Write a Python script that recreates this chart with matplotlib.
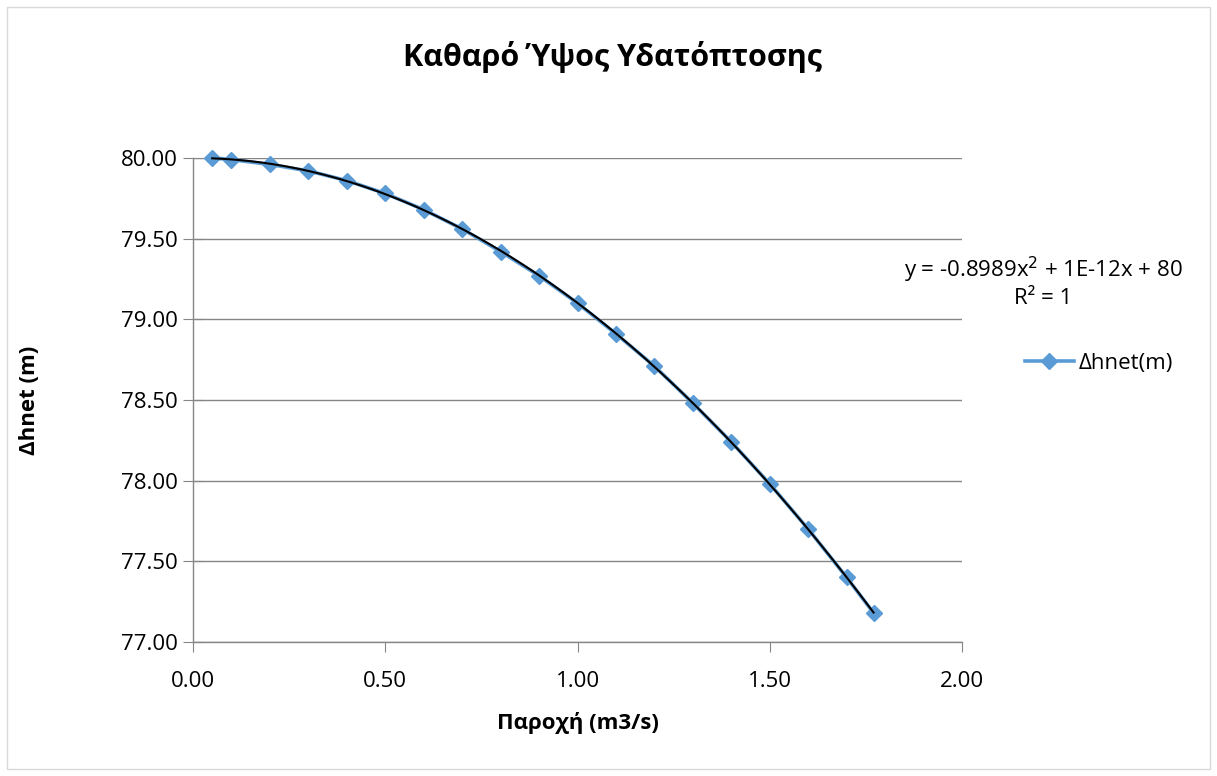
import numpy as np
import matplotlib
matplotlib.use("Agg")
import matplotlib.pyplot as plt
from matplotlib.lines import Line2D
from matplotlib.patches import Rectangle

plt.rcParams['font.family'] = ['Open Sans', 'DejaVu Sans']

# Data
flow = [0.05, 0.10, 0.20, 0.30, 0.40, 0.50, 0.60, 0.70, 0.80, 0.90,
        1.00, 1.10, 1.20, 1.30, 1.40, 1.50, 1.60, 1.70, 1.77]
dhnet = [80.00, 79.99, 79.96, 79.92, 79.86, 79.78, 79.68, 79.56, 79.42, 79.27,
         79.10, 78.91, 78.71, 78.48, 78.24, 77.98, 77.70, 77.40, 77.18]
xticks = [0.00, 0.50, 1.00, 1.50, 2.00]
yticks = [77.00, 77.50, 78.00, 78.50, 79.00, 79.50, 80.00]
title = "Καθαρό Ύψος Υδατόπτοσης"
xlabel = "Παροχή (m3/s)"
ylabel = "Δhnet (m)"
series_name = "Δhnet(m)"
eq_text = "y = -0.8989x$^{2}$ + 1E-12x + 80\nR² = 1"

W, H = 1217, 776
fig = plt.figure(figsize=(W / 100, H / 100), dpi=100)
fig.patch.set_facecolor('white')
fig.add_artist(Rectangle((7 / W, 7 / H), (W - 14) / W, (H - 14) / H,
                         transform=fig.transFigure, fill=False,
                         edgecolor='#d9d9d9', linewidth=1))

left, right, top, bottom = 193, 962, 158, 642
ax = fig.add_axes([left / W, 1 - bottom / H, (right - left) / W, (bottom - top) / H])

blue = '#5b9bd5'
gray = '#868686'
ax.plot(flow, dhnet, color=blue, linewidth=2.6, marker='D', markersize=8.5,
        markerfacecolor=blue, markeredgecolor=blue, zorder=3, clip_on=False)

coef = np.polyfit(flow, dhnet, 2)
xs = np.linspace(min(flow), max(flow), 200)
ax.plot(xs, np.polyval(coef, xs), color='black', linewidth=1.5, zorder=4, clip_on=False)

ax.set_xlim(0, 2)
ax.set_ylim(77, 80)
ax.set_xticks(xticks)
ax.set_yticks(yticks)
ax.set_xticklabels([f"{v:.2f}" for v in xticks], fontsize=16)
ax.set_yticklabels([f"{v:.2f}" for v in yticks], fontsize=16)
ax.yaxis.grid(True, color=gray, linewidth=1)
ax.set_axisbelow(True)
for s in ['top', 'right']:
    ax.spines[s].set_visible(False)
for s in ['left', 'bottom']:
    ax.spines[s].set_color(gray)
    ax.spines[s].set_linewidth(1)
ax.tick_params(axis='y', direction='inout', length=14, color=gray, pad=4)
ax.tick_params(axis='x', direction='out', length=7, color=gray, pad=14)

ax.set_xlabel(xlabel, fontsize=16, fontweight='bold', labelpad=14)
ax.set_ylabel(ylabel, fontsize=16, fontweight='bold', labelpad=58)

fig.text(612 / W, 1 - 57 / H, title, fontsize=22, fontweight='bold',
         ha='center', va='center')

fig.text(1043 / W, 1 - 282 / H, eq_text, fontsize=16, ha='center', va='center',
         linespacing=1.15)

legend_handle = Line2D([0], [0], color=blue, linewidth=2.6, marker='D',
                       markersize=8.5, markerfacecolor=blue, markeredgecolor=blue)
fig.legend([legend_handle], [series_name], loc='center left',
           bbox_to_anchor=(1005 / W, 1 - 363 / H), frameon=False, fontsize=16,
           handlelength=2.2, handletextpad=0.2)

fig.savefig("out.png", dpi=100)
